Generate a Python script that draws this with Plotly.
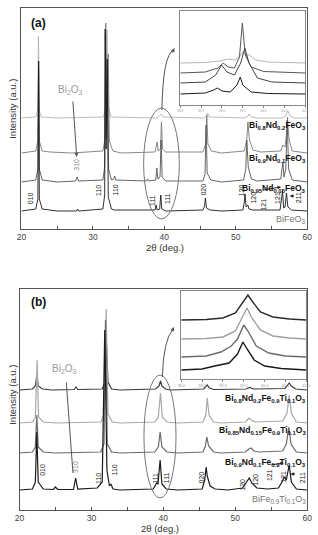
import plotly.graph_objects as go

# ---------------- data (2theta in deg, intensity in arbitrary offset units) ----------------
# Panel (a): Bi(1-x)Nd(x)FeO3
a_nd20 = [(20,111),(22.0,112),(22.25,118),(22.38,193),(22.5,118),(22.8,112),(25,111),(31.5,112),(31.85,125),
          (31.98,199),(32.1,125),(32.5,112),(39.0,111),(39.35,113),(39.55,115),(39.8,112),(45.6,111),(45.9,113),
          (46.05,116),(46.3,112),(51.3,111),(51.7,113),(51.85,115),(52.2,112),(53,111),(56.5,111),(56.9,112),
          (57.3,118),(57.6,113),(58.2,111),(60,111)]
a_nd10 = [(20,76),(22.0,78),(22.3,88),(22.4,168),(22.5,88),(22.9,78),(24,77),(27,76),(31.4,78),(31.7,90),(31.8,206),
          (31.95,120),(32.15,175),(32.3,88),(32.8,78),(34,76),(38.7,77),(39.0,87),(39.15,78),(39.45,80),(39.6,107),
          (39.75,80),(40.2,77),(45.4,77),(45.75,84),(45.95,114),(46.1,85),(46.6,78),(48,76),(51.2,78),(51.55,90),
          (51.7,107),(51.9,90),(52.4,79),(53.5,77),(56.3,78),(56.6,84),(56.9,82),(57.1,95),(57.25,112),(57.45,90),
          (57.9,78),(60,76)]
a_nd05 = [(20,47),(22.0,49),(22.3,60),(22.4,160),(22.5,60),(22.9,49),(25,47),(27.6,48),(27.8,52),(28.0,48),(31.4,49),
          (31.65,62),(31.75,195),(31.9,90),(32.05,160),(32.2,60),(32.6,49),(32.9,50),(33.05,53),(33.2,49),(37.5,48),
          (37.65,50),(37.8,48),(38.8,49),(38.95,61),(39.1,50),(39.4,52),(39.55,89),(39.7,52),(40.2,48),(45.4,48),
          (45.7,55),(45.85,104),(46.0,56),(46.5,49),(48,47),(51.1,49),(51.4,60),(51.55,89),(51.75,62),(52.2,50),
          (53,48),(56.3,50),(56.6,67),(56.75,52),(57.0,60),(57.2,109),(57.4,60),(57.9,49),(60,47)]
a_bfo = [(20,18),(22.0,20),(22.3,30),(22.4,168),(22.5,30),(22.9,20),(25,18),(27.7,18),(27.85,20),(28.0,18),(31.4,20),
         (31.65,34),(31.72,200),(31.85,80),(32.0,170),(32.15,32),(32.6,20),(33.0,19),(38.7,19),(38.85,24),(39.0,19),
         (39.35,20),(39.5,34),(39.65,20),(40.2,18),(45.4,19),(45.65,23),(45.75,31),(45.9,21),(46.4,19),(48,18),
         (51.0,19),(51.2,27),(51.3,35),(51.45,22),(51.7,24),(51.85,20),(52.4,19),(56.2,19),(56.4,28),(56.55,38),
         (56.7,21),(56.9,22),(57.1,36),(57.3,22),(57.8,19),(60,18)]

# Inset (a): 38-41 deg zoom of the (111) doublet
ia_1 = [(38.0,42),(38.6,42.5),(38.95,44),(39.15,46),(39.3,45),(39.42,48),(39.5,53),(39.58,50),(39.66,50),(39.8,45),(40.1,43),(41.0,42)]
ia_2 = [(38.0,32),(38.6,33),(38.9,37),(39.03,42),(39.15,38),(39.3,37),(39.42,48),(39.49,82),(39.56,50),(39.7,38),(40.0,33.5),(41.0,32)]
ia_3 = [(38.0,22),(38.6,23),(38.85,30),(38.99,40),(39.12,33),(39.3,30),(39.45,42),(39.55,57),(39.65,42),(39.85,27),(40.2,23),(41.0,22)]
ia_4 = [(38.0,11),(38.6,12),(38.8,15),(38.89,17),(39.0,14),(39.2,13),(39.36,20),(39.44,28),(39.5,20),(39.56,18),(39.7,13),(40.1,11.5),(41.0,11)]

# Panel (b): Bi(1-x)Nd(x)Fe0.9Ti0.1O3
b_nd20 = [(20,120),(21.8,121),(22.2,124),(22.4,135),(22.6,124),(23.2,121),(24.5,120),(27.6,120.5),(27.85,123),(28.1,120.5),
          (31.5,121),(31.9,128),(32.1,165),(32.3,128),(32.8,121),(34,120),(38.9,121),(39.4,124),(39.6,129),(39.8,124),
          (40.3,121),(41,120),(45.6,121),(45.95,124),(46.1,125),(46.4,122),(47,120.5),(51.5,121),(52.0,122.5),(52.5,121),
          (56.9,121.5),(57.3,125),(57.5,127),(57.8,124),(58.4,121),(60,120)]
b_nd15 = [(20,87),(21.8,88),(22.2,93),(22.45,150),(22.65,93),(23.3,88),(25,87),(31.3,88),(31.8,96),(32.05,201),(32.3,96),
          (32.9,88),(34,87),(38.8,88),(39.3,93),(39.6,117),(39.85,93),(40.5,88),(42,87),(45.5,88),(45.9,95),(46.1,112),
          (46.35,95),(47,88),(48,87),(51.4,88),(51.9,92),(52.2,90),(52.8,88),(56.6,89),(57.2,97),(57.5,115),(57.8,97),
          (58.5,88),(60,87)]
b_nd10 = [(20,57),(21.8,58),(22.2,63),(22.4,95),(22.6,63),(23.3,58),(25,57),(31.3,58),(31.75,66),(31.95,190),(32.2,66),
          (32.8,58),(34,57),(38.8,58),(39.3,63),(39.55,78),(39.8,63),(40.5,58),(42,57),(45.5,58),(45.85,64),(46.05,73),
          (46.3,64),(47,58),(48,57),(51.4,58),(51.9,61),(52.2,62),(52.6,59),(53.3,58),(56.6,59),(57.1,66),(57.45,83),
          (57.75,66),(58.5,58),(60,57)]
b_bfto = [(20,20),(21.8,21),(22.2,28),(22.4,78),(22.6,28),(23.3,21),(24.7,20.5),(25.0,23),(25.3,20.5),(27.5,20.5),(27.8,32),
          (28.1,21),(30.8,22),(31.2,25),(31.5,28),(31.85,180),(32.15,40),(32.5,24),(32.7,26),(33.0,21),(34,20),(38.6,21),
          (39.05,27),(39.25,26),(39.55,50),(39.8,26),(40.4,21),(42,20),(45.4,21),(45.75,30),(45.95,43),(46.1,34),(46.5,24),
          (47.2,21),(49,20),(51.0,22),(51.6,28),(51.95,32),(52.3,27),(53,22),(54.5,21),(56.0,22),(56.5,28),(56.8,33),
          (57.1,30),(57.5,45),(57.8,28),(58.5,21),(60,20)]

# Inset (b)
ib_1 = [(38.0,59),(38.6,59.5),(39.0,61),(39.3,66),(39.5,78),(39.6,84),(39.7,78),(39.9,67),(40.2,62),(40.6,60),(41.0,59)]
ib_2 = [(38.0,40),(38.6,40.5),(39.0,42),(39.3,48),(39.48,63),(39.58,71),(39.68,62),(39.9,49),(40.2,43),(40.6,41),(41.0,40)]
ib_3 = [(38.0,22),(38.6,23),(38.95,27),(39.2,33),(39.35,40),(39.5,54),(39.6,48),(39.8,33),(40.1,26),(40.5,23),(41.0,22)]
ib_4 = [(38.0,9),(38.5,10),(38.8,13),(38.95,14),(39.15,16),(39.35,25),(39.48,37),(39.58,30),(39.75,19),(40.0,13),(40.4,10.5),(41.0,9)]

# Miller-index labels (text, 2theta, y)
hkl_a = [("010",21.36,31),("110",30.85,39),("110",33.3,39),("111",38.4,29),("111",40.5,31),("020",45.5,39),
         ("120",50.9,39),("120",52.5,31),("121",53.9,24),("121",55.9,31),("211",58.9,31)]
hkl_b = [("010",23.1,40),("110",30.9,32),("110",33.2,40),("111",38.8,32),("111",40.4,32),("020",45.3,33),
         ("120",50.9,25),("120",52.7,30),("121",54.7,35),("121",56.6,33),("211",59.3,32)]

main_ticks = [20,25,30,35,40,45,50,55,60]
main_ticktext = ["20","","30","","40","","50","","60"]
inset_ticks = [38.0,38.5,39.0,39.5,40.0,40.5,41.0]
inset_ticktext = ["38.0","38.5","39.0","39.5","40.0","40.5","41.0"]

# ---------------- figure ----------------
W, H = 318, 535
def px(x): return x / W
def py(y): return 1 - y / H

fig = go.Figure()
def add(curve, color, xa, ya, width=1.0):
    fig.add_trace(go.Scatter(x=[p[0] for p in curve], y=[p[1] for p in curve], mode="lines",
                             line=dict(color=color, width=width), xaxis=xa, yaxis=ya,
                             showlegend=False, hoverinfo="skip"))

add(a_nd20, "#b4b4b4", "x", "y", 0.9)
add(a_nd10, "#7a7a7a", "x", "y", 0.9)
add(a_nd05, "#555555", "x", "y", 0.9)
add(a_bfo, "#1a1a1a", "x", "y", 0.9)
add(ia_1, "#b4b4b4", "x3", "y3")
add(ia_2, "#555555", "x3", "y3")
add(ia_3, "#444444", "x3", "y3")
add(ia_4, "#1a1a1a", "x3", "y3")

add(b_nd20, "#3a3a3a", "x2", "y2", 1.2)
add(b_nd15, "#a8a8a8", "x2", "y2", 1.2)
add(b_nd10, "#6a6a6a", "x2", "y2", 1.2)
add(b_bfto, "#1a1a1a", "x2", "y2", 1.2)
add(ib_1, "#2a2a2a", "x4", "y4", 1.4)
add(ib_2, "#a0a0a0", "x4", "y4", 1.4)
add(ib_3, "#6a6a6a", "x4", "y4", 1.4)
add(ib_4, "#1a1a1a", "x4", "y4", 1.4)

frame = "#555555"
def xax(domain, anchor, rng, tv, tt, fs, fc, ticks="inside", tl=3, lc=frame):
    return dict(domain=domain, anchor=anchor, range=rng, tickvals=tv, ticktext=tt, ticks=ticks, ticklen=tl,
                tickcolor=lc, showline=True, linecolor=lc, linewidth=1, mirror=True, showgrid=False,
                zeroline=False, tickfont=dict(size=fs, color=fc), fixedrange=True)
def yax(domain, anchor, rng, lc=frame):
    return dict(domain=domain, anchor=anchor, range=rng, showticklabels=False, ticks="", showline=True,
                linecolor=lc, linewidth=1, mirror=True, showgrid=False, zeroline=False, fixedrange=True)

fig.update_layout(
    width=W, height=H, margin=dict(l=0, r=0, t=0, b=0),
    paper_bgcolor="white", plot_bgcolor="white",
    font=dict(family="Arial, Liberation Sans, sans-serif", color="#222"),
    xaxis=xax([px(17), px(312)], "y", [20, 60], main_ticks, main_ticktext, 8.5, "#444"),
    yaxis=yax([py(229), py(8)], "x", [0, 221]),
    xaxis2=xax([px(15), px(312)], "y2", [20, 60], main_ticks, main_ticktext, 8.5, "#444"),
    yaxis2=yax([py(510), py(289)], "x2", [0, 221]),
    xaxis3=xax([px(181), px(310)], "y3", [38, 41], inset_ticks, inset_ticktext, 3, "#999", "outside", 2, "#888"),
    yaxis3=yax([py(105), py(11)], "x3", [0, 94], "#888"),
    xaxis4=xax([px(182), px(311)], "y4", [38, 41], inset_ticks, inset_ticktext, 4, "#999", "outside", 2, "#888"),
    yaxis4=yax([py(379), py(291)], "x4", [0, 88], "#888"),
)

ann = []
shapes = []
def ptext(text, xp, yp, size, color, angle=0, xanchor="center"):
    ann.append(dict(text=text, x=px(xp), y=py(yp), xref="paper", yref="paper", xanchor=xanchor, yanchor="middle",
                    textangle=angle, showarrow=False, font=dict(size=size, color=color)))

# panel letters
ptext("<b>(a)</b>", 35, 23, 12, "#111")
ptext("<b>(b)</b>", 35, 302, 12, "#111")
# axis titles
ptext("Intensity (a.u.)", 7, 109, 9.5, "#333", -90)
ptext("Intensity (a.u.)", 7, 395, 9.5, "#333", -90)
ptext("2θ (deg.)", 165, 247, 9.5, "#333")
ptext("2θ (deg.)", 160, 528, 9.5, "#333")

# compound labels
def lab(text, ypix, bold=True, color="#111", size=8.5):
    t = f"<b>{text}</b>" if bold else text
    ptext(t, 313, ypix, size, color, xanchor="right")
lab("Bi<sub>0.8</sub>Nd<sub>0.2</sub>FeO<sub>3</sub>", 125)
lab("Bi<sub>0.9</sub>Nd<sub>0.1</sub>FeO<sub>3</sub>", 158)
lab("Bi<sub>0.95</sub>Nd<sub>0.05</sub>FeO<sub>3</sub>", 188)
lab("BiFeO<sub>3</sub>", 219, bold=False, color="#777", size=9)
lab("Bi<sub>0.8</sub>Nd<sub>0.2</sub>Fe<sub>0.9</sub>Ti<sub>0.1</sub>O<sub>3</sub>", 398)
lab("Bi<sub>0.85</sub>Nd<sub>0.15</sub>Fe<sub>0.9</sub>Ti<sub>0.1</sub>O<sub>3</sub>", 430)
lab("Bi<sub>0.9</sub>Nd<sub>0.1</sub>Fe<sub>0.9</sub>Ti<sub>0.1</sub>O<sub>3</sub>", 462)
lab("BiFe<sub>0.9</sub>Ti<sub>0.1</sub>O<sub>3</sub>", 499, bold=False, color="#777", size=9)

# hkl labels
def dtext(t, x, y, xr, yr, color="#222"):
    ann.append(dict(text=t, x=x, y=y, xref=xr, yref=yr, xanchor="center", yanchor="middle", textangle=-90,
                    showarrow=False, font=dict(size=7, color=color)))
for (t, x, y) in hkl_a:
    dtext(t, x, y, "x", "y")
for (t, x, y) in hkl_b:
    dtext(t, x, y, "x2", "y2")
dtext("310", 27.73, 64, "x", "y", "#888")
dtext("310", 27.7, 43, "x2", "y2", "#888")

# Bi2O3 labels + pointers
ptext("Bi<sub>2</sub>O<sub>3</sub>", 68, 90, 10, "#9a9a9a")
ptext("Bi<sub>2</sub>O<sub>3</sub>", 61, 369, 10, "#9a9a9a")
ann.append(dict(text="", x=27.73, y=72, ax=27.19, ay=129, xref="x", yref="y", axref="x", ayref="y", showarrow=True,
                arrowhead=2, arrowsize=0.8, arrowwidth=1, arrowcolor="#555"))
ann.append(dict(text="", x=27.43, y=37, ax=26.49, ay=129, xref="x2", yref="y2", axref="x2", ayref="y2", showarrow=True,
                arrowhead=0, arrowwidth=1, arrowcolor="#555"))
# small pointer arrows near (121)/(211)
for (xr, yr, hx, hy, tx, ty) in [("x", "y", 56.34, 42, 53.76, 39), ("x", "y", 57.56, 33, 58.37, 33),
                                 ("x2", "y2", 56.76, 47, 54.86, 45), ("x2", "y2", 57.7, 36, 58.51, 36)]:
    ann.append(dict(text="", x=hx, y=hy, ax=tx, ay=ty, xref=xr, yref=yr, axref=xr, ayref=yr, showarrow=True,
                    arrowhead=2, arrowsize=0.7, arrowwidth=1, arrowcolor="#222"))

# ellipses around (111) region and curved arrows to insets
shapes.append(dict(type="circle", xref="x", yref="y", x0=37.1, x1=42.1, y0=10, y1=121, line=dict(color="#777", width=1)))
shapes.append(dict(type="circle", xref="x2", yref="y2", x0=37.3, x1=41.76, y0=12, y1=135, line=dict(color="#777", width=1)))
shapes.append(dict(type="path", xref="x", yref="y", path="M 39.66,119 Q 39.8,174 41.3,179", line=dict(color="#555", width=1)))
shapes.append(dict(type="path", xref="x2", yref="y2", path="M 39.86,133 Q 40.0,170 41.35,181", line=dict(color="#555", width=1)))
ann.append(dict(text="", x=41.42, y=181, xref="x", yref="y", ax=-3, ay=6, showarrow=True, arrowhead=2,
                arrowsize=0.8, arrowwidth=1, arrowcolor="#555"))
ann.append(dict(text="", x=41.49, y=183, xref="x2", yref="y2", ax=-3, ay=6, showarrow=True, arrowhead=2,
                arrowsize=0.8, arrowwidth=1, arrowcolor="#555"))

fig.update_layout(annotations=ann, shapes=shapes)
fig.write_html("out.html")
